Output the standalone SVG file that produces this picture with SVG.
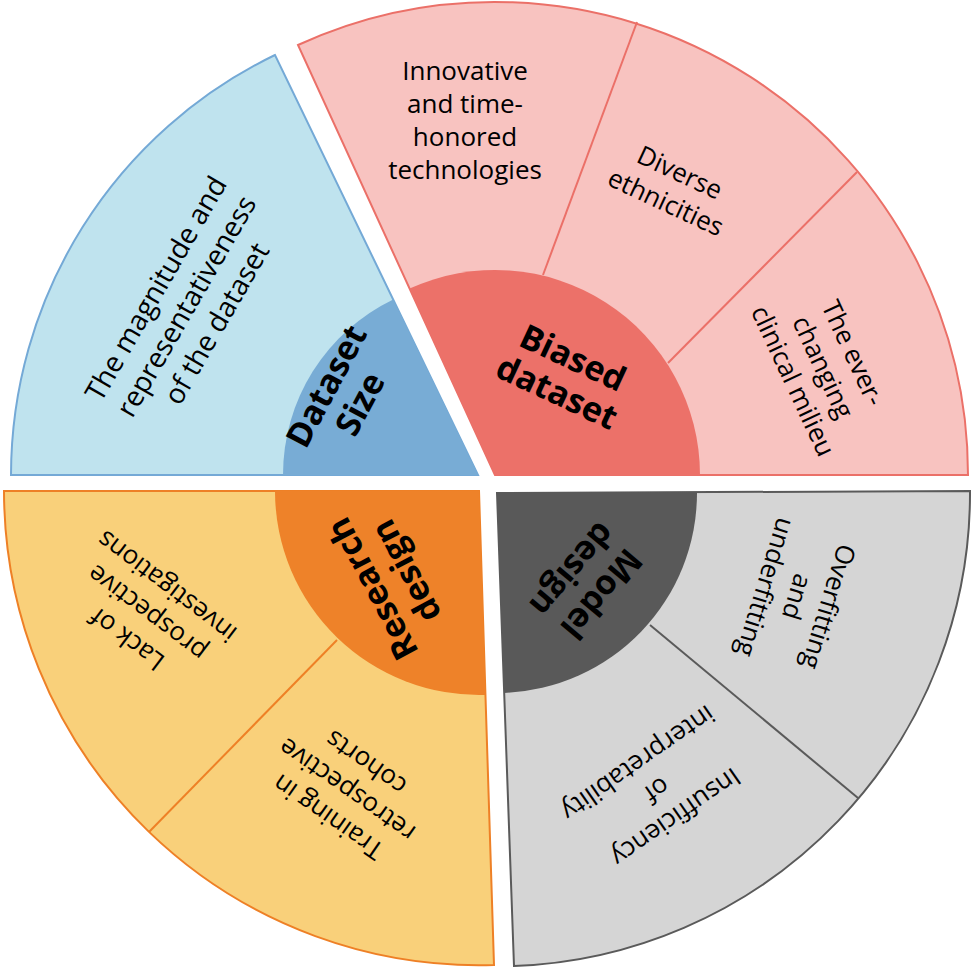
<svg xmlns="http://www.w3.org/2000/svg" width="974" height="971" viewBox="0 0 974 971">
<style>
text{font-family:"Open Sans","Noto Sans","Liberation Sans",sans-serif;fill:#000;text-anchor:middle}
.t{font-size:26px}
.tl{font-size:28px}
.b{font-size:34px;font-weight:bold}
</style>
<rect width="974" height="971" fill="#fff"/>
<g id="dataset-size">
<path d="M478,475 L11,475 A467,467 0 0 1 275,55 Z" fill="#bfe3ee" stroke="#74a9d6" stroke-width="2"/>
<path d="M478,475 L283,475 A195,195 0 0 1 393.2,299.4 Z" fill="#78acd5"/>
<text class="tl" transform="translate(186,306) rotate(-60)"><tspan x="0" y="-25">The magnitude and</tspan><tspan x="0" y="10">representativeness</tspan><tspan x="0" y="45">of the dataset</tspan></text>
<text class="b" transform="translate(343,395) rotate(-62)"><tspan x="0" y="-7">Dataset</tspan><tspan x="0" y="31">Size</tspan></text>
</g>
<g id="biased-dataset">
<path d="M495,475 L298,45 A473,473 0 0 1 968,475 Z" fill="#f8c3c0" stroke="#eb7068" stroke-width="2"/>
<path d="M495,475 L409.6,288.6 A205,205 0 0 1 700,475 Z" fill="#ec7169"/>
<text class="t" transform="translate(465,120)"><tspan x="0" y="-40">Innovative</tspan><tspan x="0" y="-7">and time-</tspan><tspan x="0" y="26">honored</tspan><tspan x="0" y="59">technologies</tspan></text>
<text class="t" transform="translate(673,187) rotate(25)"><tspan x="0" y="-7">Diverse</tspan><tspan x="0" y="26">ethnicities</tspan></text>
<text class="t" transform="translate(823,367) rotate(65)"><tspan x="0" y="-24">The ever-</tspan><tspan x="0" y="9">changing</tspan><tspan x="0" y="42">clinical milieu</tspan></text>
<text class="b" transform="translate(565,375) rotate(25)"><tspan x="0" y="-7">Biased</tspan><tspan x="0" y="31">dataset</tspan></text>
</g>
<g id="research-design">
<path d="M479,491 L4,491 A475,475 0 0 0 494,965 Z" fill="#f9d07a" stroke="#ee8026" stroke-width="2"/>
<path d="M479,491 L275,491 A204,204 0 0 0 485.4,694.9 Z" fill="#ee8229"/>
<text class="t" transform="translate(147,613) rotate(217)"><tspan x="0" y="-24">Lack of</tspan><tspan x="0" y="9">prospective</tspan><tspan x="0" y="42">investigations</tspan></text>
<text class="t" transform="translate(347,790) rotate(215)"><tspan x="0" y="-24">Training in</tspan><tspan x="0" y="9">retrospective</tspan><tspan x="0" y="42">cohorts</tspan></text>
<text class="b" transform="translate(389,580) rotate(242)"><tspan x="0" y="-7">Research</tspan><tspan x="0" y="31">design</tspan></text>
</g>
<g id="model-design">
<path d="M497,493 L970,491 A473,473 0 0 1 514,966 Z" fill="#d5d5d5" stroke="#5a5a5a" stroke-width="2"/>
<path d="M497,493 L697,492 A200,200 0 0 1 504.2,692.9 Z" fill="#595959"/>
<text class="t" transform="translate(797,597) rotate(107)"><tspan x="0" y="-24">Overfitting</tspan><tspan x="0" y="9">and</tspan><tspan x="0" y="42">underfitting</tspan></text>
<text class="t" transform="translate(657,790) rotate(145)"><tspan x="0" y="-24">Insufficiency</tspan><tspan x="0" y="9">of</tspan><tspan x="0" y="42">interpretability</tspan></text>
<text class="b" transform="translate(587,582) rotate(130)"><tspan x="0" y="-7">Model</tspan><tspan x="0" y="31">design</tspan></text>
</g>
<g id="connectors" stroke-width="2">
<line x1="543" y1="275" x2="637" y2="22" stroke="#eb7068"/>
<line x1="668" y1="363" x2="857" y2="172" stroke="#eb7068"/>
<line x1="337" y1="640" x2="149" y2="832" stroke="#ee8026"/>
<line x1="650" y1="625" x2="858" y2="798" stroke="#5a5a5a"/>
</g>
</svg>
